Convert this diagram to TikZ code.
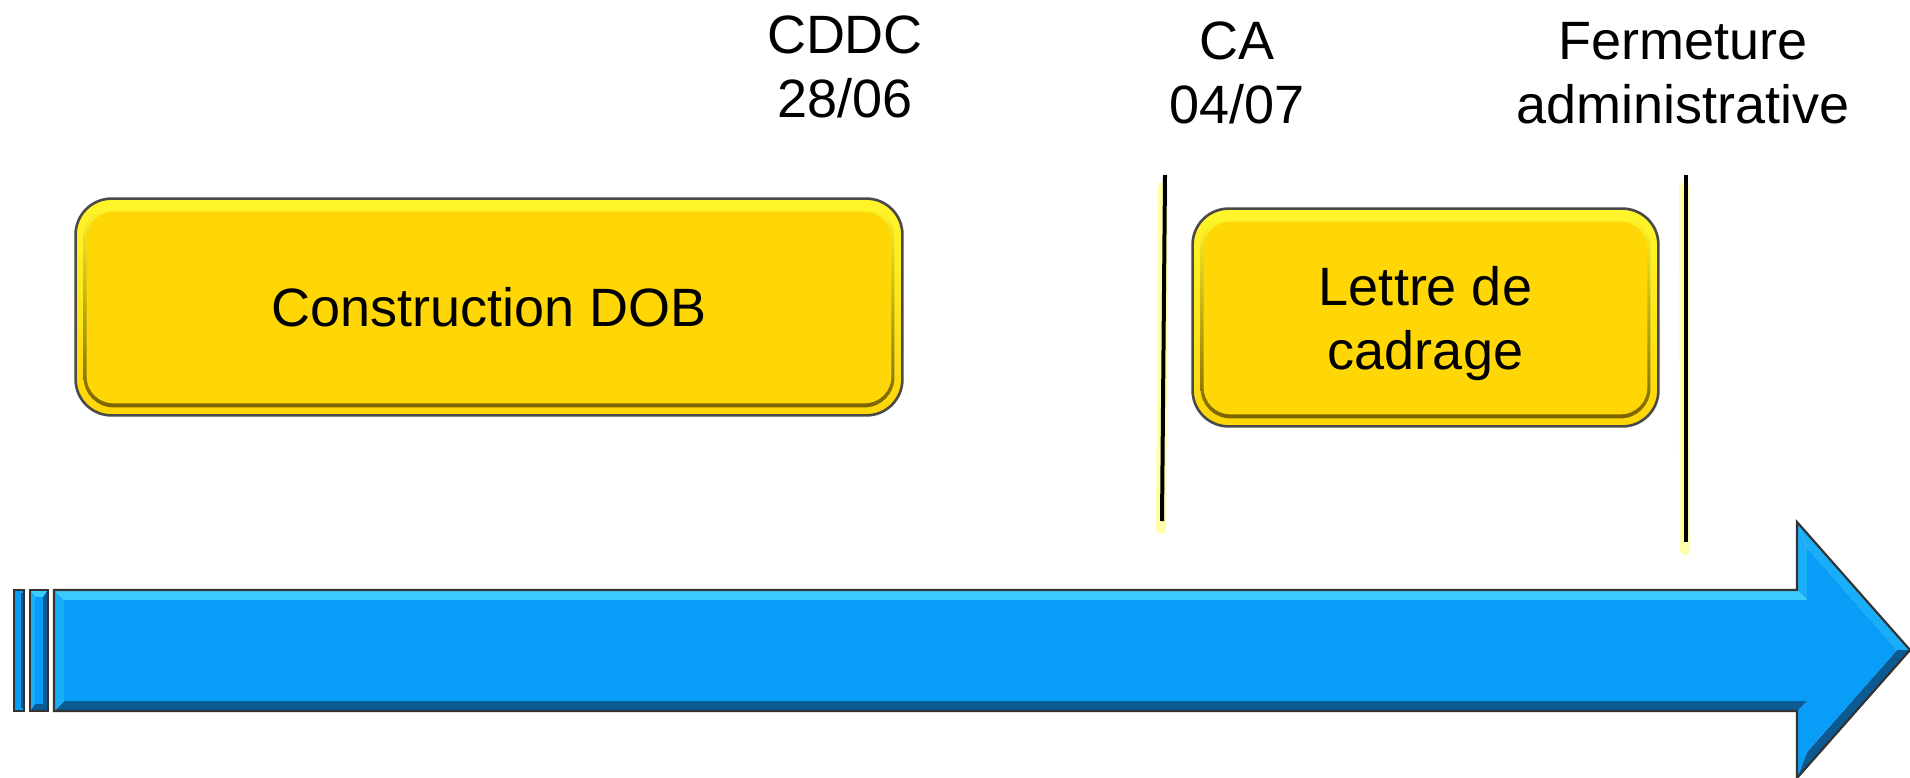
\documentclass[tikz,border=0pt]{standalone}
\usepackage{fontspec}
\setmainfont{Liberation Sans}
\usetikzlibrary{calc}
\pgfdeclarelayer{bg}
\pgfsetlayers{bg,main}
\definecolor{gold}{HTML}{FFD606}
\definecolor{goldhi}{HTML}{FFF52A}
\definecolor{goldlo}{HTML}{7A6400}
\definecolor{boxline}{HTML}{4A4A4A}
\definecolor{arblue}{HTML}{0A9DF7}
\definecolor{arlight}{HTML}{3CCBFF}
\definecolor{armid}{HTML}{1AAEF8}
\definecolor{ardark}{HTML}{0B5A92}
\definecolor{arline}{HTML}{333333}
\definecolor{glow}{HTML}{FFFF40}
\tikzset{
  lbl/.style={font=\fontsize{27pt}{32pt}\selectfont, align=center, inner sep=0pt, anchor=base},
  boxtext/.style={font=\fontsize{27pt}{32pt}\selectfont, align=center, inner sep=0pt, text depth=0pt},
  boxouter/.style={draw=boxline, line width=1.3pt, top color=goldhi, bottom color=gold, rounded corners=18pt},
  boxrim/.style={top color=goldhi, bottom color=goldlo, rounded corners=15pt},
  boxface/.style={fill=gold, rounded corners=13.5pt},
  marker/.style={draw=black, line width=2pt},
  markerglow/.style={draw=glow, line width=5pt, opacity=0.45, line cap=round},
  arface/.style={fill=arblue},
  arborder/.style={draw=arline, line width=1.1pt, line join=miter},
}
\begin{document}
\begin{tikzpicture}[x=0.5pt,y=-0.5pt]
\useasboundingbox (0,0) rectangle (1910,777);

% ---- labels above
\node[lbl] (cddc) at (845,117) {CDDC\\28/06};
\node[lbl] (ca) at (1237,123) {CA\\04/07};
\node[lbl] (ferm) at (1683,123) {Fermeture\\administrative};

% ---- boxes (text nodes, shapes on background layer)
\node[boxtext, minimum width=413pt, minimum height=108pt] (dob) at (489,307) {Construction DOB};
\node[boxtext, minimum width=232.5pt, minimum height=108.5pt] (lettre) at (1425.5,317.5) {Lettre de\\cadrage};

\begin{pgfonlayer}{bg}
\foreach \b in {dob,lettre}{
  \path[boxouter] (\b.north west) rectangle (\b.south east);
  \path[boxrim] ($(\b.north west)+(8,8)$) rectangle ($(\b.south east)+(-8,-8)$);
  \path[boxface] ($(\b.north west)+(11,13)$) rectangle ($(\b.south east)+(-11,-12)$);
}
\end{pgfonlayer}

% ---- milestone markers
\coordinate (m1t) at (1165,175);
\coordinate (m1b) at (1162,521);
\coordinate (m2t) at (1686,175);
\coordinate (m2b) at (1686,542);
\draw[markerglow] ($(m1t)+(-2,12)$) -- ($(m1b)+(-1,8)$);
\draw[markerglow] ($(m2t)+(-2,12)$) -- ($(m2b)+(-1,8)$);
\draw[marker] (m1t) -- (m1b);
\draw[marker] (m2t) -- (m2b);

% ---- small bars
\path[fill=arblue, draw=arline, line width=1.1pt] (14,590) rectangle (24,711);
\path[fill=ardark] (21,593) rectangle (23,708);
\path[fill=ardark, draw=arline, line width=1.1pt] (30,590) rectangle (48,711);
\path[fill=arlight] (31,591) -- (47,591) -- (43,597) -- (35,597) -- cycle;
\path[fill=armid] (31,591) -- (35,597) -- (35,704) -- (31,710) -- cycle;
\path[fill=arblue] (35,597) rectangle (43,704);

% ---- main arrow
\coordinate (A) at (54,590);   \coordinate (a) at (64,600);
\coordinate (B) at (1797,590); \coordinate (b) at (1807,600);
\coordinate (C) at (1797,522); \coordinate (c) at (1807,548);
\coordinate (D) at (1910,650); \coordinate (d) at (1897,650);
\coordinate (E) at (1797,778); \coordinate (e) at (1807,752);
\coordinate (F) at (1797,711); \coordinate (f) at (1807,701);
\coordinate (G) at (54,711);   \coordinate (g) at (64,701);
\path[fill=arlight] (A) -- (B) -- (b) -- (a) -- cycle;
\path[fill=armid] (B) -- (C) -- (c) -- (b) -- cycle;
\path[fill=armid] (C) -- (D) -- (d) -- (c) -- cycle;
\path[fill=ardark] (D) -- (E) -- (e) -- (d) -- cycle;
\path[fill=arblue] (E) -- (F) -- (f) -- (e) -- cycle;
\path[fill=ardark] (F) -- (G) -- (g) -- (f) -- cycle;
\path[fill=armid] (G) -- (A) -- (a) -- (g) -- cycle;
\path[arface] (a) -- (b) -- (c) -- (d) -- (e) -- (f) -- (g) -- cycle;
\path[arborder] (A) -- (B) -- (C) -- (D) -- (E) -- (F) -- (G) -- cycle;
\end{tikzpicture}
\end{document}
